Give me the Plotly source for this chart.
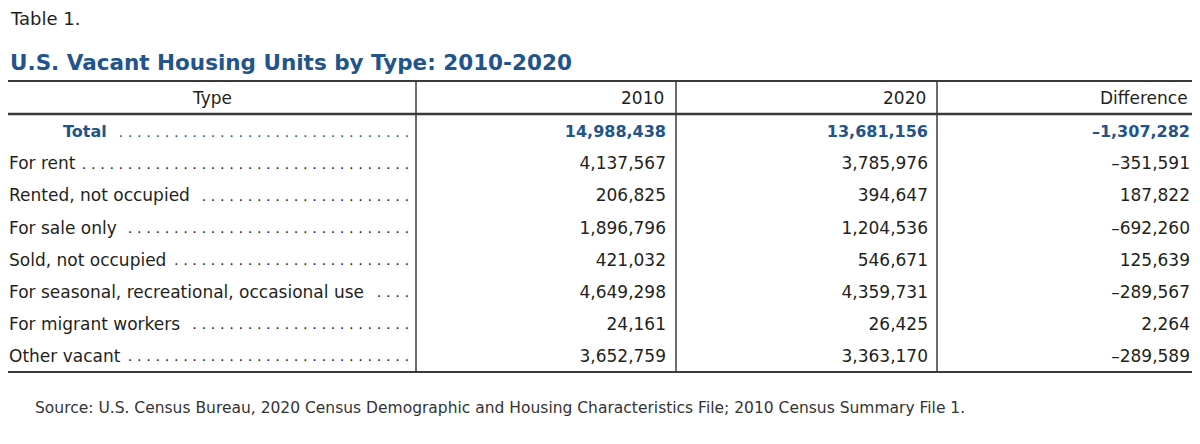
import plotly.graph_objects as go

# table content
types = [
    "Total",
    "For rent",
    "Rented, not occupied",
    "For sale only",
    "Sold, not occupied",
    "For seasonal, recreational, occasional use",
    "For migrant workers",
    "Other vacant",
]
units_2010 = [14988438, 4137567, 206825, 1896796, 421032, 4649298, 24161, 3652759]
units_2020 = [13681156, 3785976, 394647, 1204536, 546671, 4359731, 26425, 3363170]
difference = [-1307282, -351591, 187822, -692260, 125639, -289567, 2264, -289589]
headers = ["Type", "2010", "2020", "Difference"]

title_small = "Table 1."
title_main = "U.S. Vacant Housing Units by Type: 2010-2020"
source = ("Source: U.S. Census Bureau, 2020 Census Demographic and Housing "
          "Characteristics File; 2010 Census Summary File 1.")

BLUE = "#22548c"
INK = "#231f20"
RULE = "#3a3a3a"
FONT = "DejaVu Sans"
SIZE = 17

W, H = 1200, 444
PAD = 8  # page body margin, keeps coordinates in screen pixels
row0, row_h = 133, 32.1
header_y = 98
col_edges = [8, 416, 676, 937, 1197]
num_right = [666, 928, 1190]
label_x = [63] + [9] * (len(types) - 1)

# rough DejaVu Sans advance widths (em) to size the dot leaders
ADV = {" ": .318, ",": .318, ".": .318, "F": .576, "O": .787, "R": .695,
       "S": .635, "T": .611, "a": .613, "c": .550, "d": .635, "e": .615,
       "g": .635, "h": .634, "i": .278, "k": .579, "l": .278, "m": .974,
       "n": .634, "o": .612, "p": .635, "r": .411, "s": .521, "t": .392,
       "u": .634, "v": .592, "w": .818, "y": .592}
ADV_BOLD = {"T": .682, "o": .687, "t": .478, "a": .675, "l": .343}


def text_width(s, size, bold=False):
    table = ADV_BOLD if bold else ADV
    return sum(table.get(ch, ADV.get(ch, .6)) for ch in s) * size


def fmt(v):
    s = f"{abs(v):,}"
    return ("\u2013" + s) if v < 0 else s


rows_y = [row0 + i * row_h for i in range(len(types))]
colors = [BLUE] + [INK] * (len(types) - 1)
sizes = [16] + [SIZE] * (len(types) - 1)
weights = ["bold"] + ["normal"] * (len(types) - 1)

# dot leaders, right aligned at the first column edge
DOT_SIZE = 14.5
space_w = .318 * DOT_SIZE
pair = 2 * space_w
leader_end = 409
leaders = []
for i, name in enumerate(types):
    end = label_x[i] + text_width(name, sizes[i], bold=(i == 0)) + 3
    n = max(int((leader_end - end + space_w) // pair), 1)
    leaders.append(". " * (n - 1) + ".")

fig = go.Figure()

fig.add_trace(go.Scatter(
    x=[leader_end] * len(types), y=rows_y, mode="text",
    text=leaders, textposition="middle left",
    textfont=dict(family=FONT, size=DOT_SIZE, color=colors),
    hoverinfo="skip", showlegend=False,
))

fig.add_trace(go.Scatter(
    x=label_x, y=rows_y, mode="text",
    text=types, textposition="middle right",
    textfont=dict(family=FONT, size=sizes, color=colors, weight=weights),
    hoverinfo="skip", showlegend=False,
))

for col, values in enumerate([units_2010, units_2020, difference]):
    fig.add_trace(go.Scatter(
        x=[num_right[col]] * len(values), y=rows_y, mode="text",
        text=[fmt(v) for v in values], textposition="middle left",
        textfont=dict(family=FONT, size=sizes, color=colors, weight=weights),
        hoverinfo="skip", showlegend=False,
    ))

# headers
fig.add_annotation(x=(col_edges[0] + col_edges[1]) / 2, y=header_y, text=headers[0],
                   xanchor="center", yanchor="middle", showarrow=False,
                   font=dict(family=FONT, size=SIZE, color=INK))
for col, h in enumerate(headers[1:]):
    fig.add_annotation(x=num_right[col], y=header_y, text=h,
                       xanchor="right", yanchor="middle", showarrow=False,
                       font=dict(family=FONT, size=SIZE, color=INK))

# titles and source
fig.add_annotation(x=8, y=18, text=title_small, xanchor="left", yanchor="middle",
                   showarrow=False, font=dict(family=FONT, size=18, color=INK))
fig.add_annotation(x=8, y=62, text=f"<b>{title_main}</b>", xanchor="left",
                   yanchor="middle", showarrow=False,
                   font=dict(family=FONT, size=21.5, color=BLUE))
fig.add_annotation(x=33, y=408, text=source, xanchor="left", yanchor="middle",
                   showarrow=False, font=dict(family=FONT, size=15.5, color="#333333"))

# rules
top, head_bot, bottom = 81, 114, 372
for y, w in [(top, 2), (head_bot, 2.5), (bottom, 2)]:
    fig.add_shape(type="line", x0=col_edges[0], x1=col_edges[-1], y0=y, y1=y,
                  xref="x", yref="y", line=dict(color=RULE, width=w))
for x in col_edges[1:-1]:
    fig.add_shape(type="line", x0=x, x1=x, y0=top, y1=bottom,
                  xref="x", yref="y", line=dict(color=RULE, width=1.5))

fig.update_layout(
    width=W - PAD, height=H - PAD, margin=dict(l=0, r=0, t=0, b=0),
    paper_bgcolor="white", plot_bgcolor="white",
    xaxis=dict(range=[PAD, W], visible=False, fixedrange=True),
    yaxis=dict(range=[H, PAD], visible=False, fixedrange=True),
)

fig.write_html("out.html")
